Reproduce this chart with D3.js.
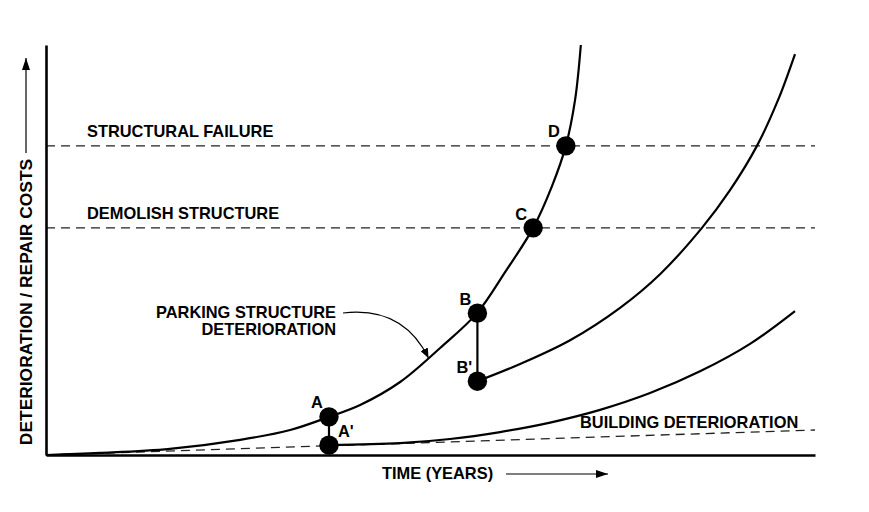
<!DOCTYPE html>
<html>
<head>
<meta charset="utf-8">
<script src="https://cdn.jsdelivr.net/npm/d3@7"></script>
<style>
  html, body { margin: 0; padding: 0; background: #fff; }
  svg { display: block; }
  text { font-family: Arial, "Liberation Sans", sans-serif; font-weight: bold; font-size: 16.4px; fill: #000; }
</style>
</head>
<body>
<svg id="chart" width="869" height="512"></svg>
<script>
// ---- data (years, deterioration / cost units) ----
const parkingCurve = [[0,0],[1.40,0.5],[3.22,1.5],[5.05,3.7],[6.35,6.1],[7.36,9.3],[8.17,12.2],[9.21,17.8],[10.25,26.1],[11.21,34.6],[11.94,44.6],[12.67,55.4],[13.16,65.6],[13.52,75.4],[13.76,86.6],[13.91,100]];
const repairBCurve = [[11.22,18.0],[12.33,22.2],[13.63,28.0],[14.93,35.9],[15.97,44.1],[17.06,55.4],[17.79,64.6],[18.49,75.4],[19.04,86.6],[19.48,97.8]];
const repairACurve = [[7.36,2.4],[9.21,2.9],[10.51,3.9],[11.81,5.6],[13.11,7.9],[14.41,11.0],[15.71,15.1],[17.01,20.4],[18.31,27.1],[19.48,35.1]];
const buildingLine = [[0,0],[20,6.1]];
const thresholdLabels = ["STRUCTURAL FAILURE", "DEMOLISH STRUCTURE"];
const thresholdValues = [75.4, 55.4];
const pointNames = ["A", "A'", "B", "B'", "C", "D"];
const pointYears = [7.36, 7.36, 11.22, 11.22, 12.67, 13.52];
const pointCosts = [9.3, 2.4, 34.6, 18.0, 55.4, 75.4];
const xTitle = "TIME (YEARS)";
const yTitle = "DETERIORATION / REPAIR COSTS";
const parkingLabel = ["PARKING STRUCTURE", "DETERIORATION"];
const buildingLabel = "BUILDING DETERIORATION";

// ---- layout ----
const svg = d3.select("#chart");
const mLeft = 46, mRight = 815, mTop = 45, mBottom = 455;
const x = d3.scaleLinear().domain([0, 20]).range([mLeft, mRight]);
const y = d3.scaleLinear().domain([0, 100]).range([mBottom, mTop]);

const defs = svg.append("defs");
defs.append("marker").attr("id", "arrowBig").attr("viewBox", "0 0 12 8")
  .attr("refX", 12).attr("refY", 4).attr("markerWidth", 12).attr("markerHeight", 8)
  .attr("markerUnits", "userSpaceOnUse").attr("orient", "auto")
  .append("path").attr("d", "M0,0 L12,4 L0,8 Z").attr("fill", "#000");
defs.append("marker").attr("id", "arrowSmall").attr("viewBox", "0 0 10 8")
  .attr("refX", 10).attr("refY", 4).attr("markerWidth", 10).attr("markerHeight", 8)
  .attr("markerUnits", "userSpaceOnUse").attr("orient", "auto")
  .append("path").attr("d", "M0,0 L10,4 L0,8 Z").attr("fill", "#000");

// threshold dashed lines
thresholdValues.forEach((v, i) => {
  svg.append("line").attr("x1", x(0)).attr("x2", x(20)).attr("y1", y(v)).attr("y2", y(v))
    .attr("stroke", "#222").attr("stroke-width", 1.3).attr("stroke-dasharray", "9,6");
  svg.append("text").attr("x", 87).attr("y", y(v) - 9).text(thresholdLabels[i]);
});

// building deterioration dashed line
const line = d3.line().x(d => x(d[0])).y(d => y(d[1]));
svg.append("path").datum(buildingLine).attr("d", line).attr("fill", "none")
  .attr("stroke", "#222").attr("stroke-width", 1.3).attr("stroke-dasharray", "9,6");

// curves
const curve = d3.line().x(d => x(d[0])).y(d => y(d[1])).curve(d3.curveCatmullRom.alpha(0.5));
[parkingCurve, repairBCurve, repairACurve].forEach(c => {
  svg.append("path").datum(c).attr("d", curve).attr("fill", "none")
    .attr("stroke", "#000").attr("stroke-width", 2.2);
});

// axes
svg.append("g").attr("transform", `translate(0,${mBottom})`)
  .call(d3.axisBottom(x).tickValues([]).tickSizeOuter(0))
  .select(".domain").attr("stroke", "#000").attr("stroke-width", 2.6);
svg.append("g").attr("transform", `translate(${mLeft},0)`)
  .call(d3.axisLeft(y).tickValues([]).tickSizeOuter(0))
  .select(".domain").attr("stroke", "#000").attr("stroke-width", 2.6);

// repair connectors
[[0, 1], [2, 3]].forEach(([a, b]) => {
  svg.append("line").attr("x1", x(pointYears[a])).attr("x2", x(pointYears[b]))
    .attr("y1", y(pointCosts[a])).attr("y2", y(pointCosts[b]))
    .attr("stroke", "#000").attr("stroke-width", 2.2);
});

// points
svg.selectAll("circle.pt").data(pointNames).enter().append("circle")
  .attr("class", "pt")
  .attr("cx", (d, i) => x(pointYears[i])).attr("cy", (d, i) => y(pointCosts[i]))
  .attr("r", 9.7).attr("fill", "#000");

// point labels (offsets in px)
const labelOffsets = { "A": [-12, -9], "A'": [9, -8], "B": [-12, -8], "B'": [-21, -8], "C": [-12, -8], "D": [-12, -9] };
pointNames.forEach((n, i) => {
  const o = labelOffsets[n];
  svg.append("text").attr("x", x(pointYears[i]) + o[0]).attr("y", y(pointCosts[i]) + o[1])
    .attr("text-anchor", (n === "A'" || n === "B'") ? "start" : "middle").text(n);
});

// parking structure label + curved arrow
svg.append("text").attr("x", 336).attr("y", 318).attr("text-anchor", "end").text(parkingLabel[0]);
svg.append("text").attr("x", 336).attr("y", 335).attr("text-anchor", "end").text(parkingLabel[1]);
svg.append("path")
  .attr("d", `M343,313 Q403,306 ${x(9.95)},${y(23.6)}`)
  .attr("fill", "none").attr("stroke", "#000").attr("stroke-width", 1.1)
  .attr("marker-end", "url(#arrowSmall)");

// building label
svg.append("text").attr("x", 580).attr("y", 428).text(buildingLabel);

// axis titles with arrows
svg.append("text").attr("x", 382).attr("y", 479).text(xTitle);
svg.append("line").attr("x1", 506).attr("x2", 608).attr("y1", 474).attr("y2", 474)
  .attr("stroke", "#000").attr("stroke-width", 1.2).attr("marker-end", "url(#arrowBig)");

svg.append("text").attr("transform", "translate(32,302) rotate(-90)")
  .attr("text-anchor", "middle").style("font-size", "17.4px").text(yTitle);
svg.append("line").attr("x1", 26).attr("x2", 26).attr("y1", 153).attr("y2", 58)
  .attr("stroke", "#000").attr("stroke-width", 1.2).attr("marker-end", "url(#arrowBig)");
</script>
</body>
</html>
